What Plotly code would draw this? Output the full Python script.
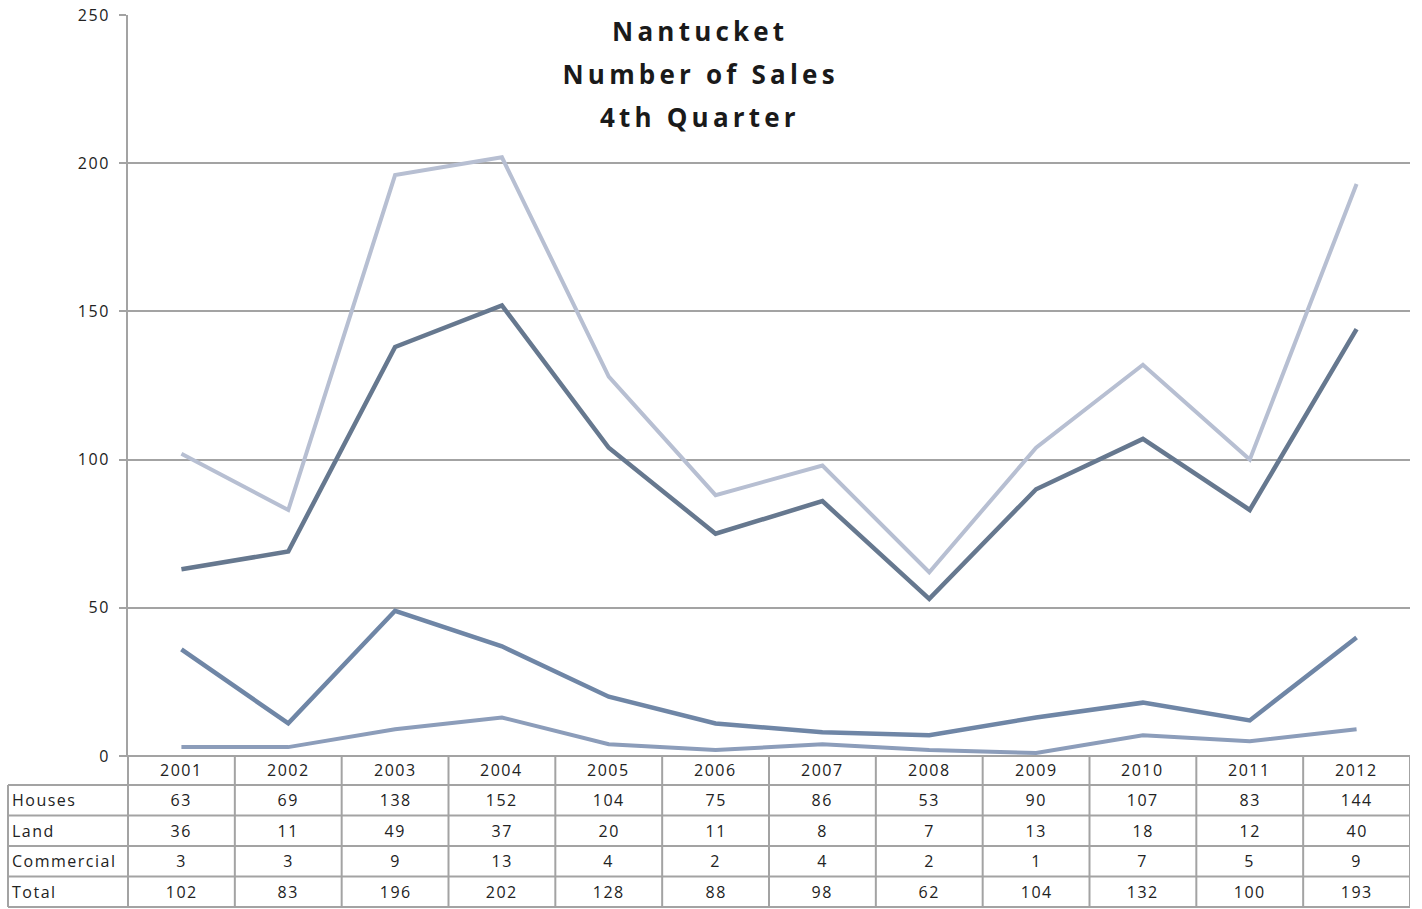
import plotly.graph_objects as go

years = [2001, 2002, 2003, 2004, 2005, 2006, 2007, 2008, 2009, 2010, 2011, 2012]
houses = [63, 69, 138, 152, 104, 75, 86, 53, 90, 107, 83, 144]
land = [36, 11, 49, 37, 20, 11, 8, 7, 13, 18, 12, 40]
commercial = [3, 3, 9, 13, 4, 2, 4, 2, 1, 7, 5, 9]
total = [102, 83, 196, 202, 128, 88, 98, 62, 104, 132, 100, 193]
series_names = ["Houses", "Land", "Commercial", "Total"]
title_lines = ["Nantucket", "Number of Sales", "4th Quarter"]

W, H = 1422, 909
L, R, T, B = 128, 12, 15, 153
PW, PH = W - L - R, H - T - B

def px_x(px):
    return (px - L) / PW

def px_y(py):
    return (H - B - py) / PH

colors = {"Houses": "#66788f", "Land": "#6f86a6", "Commercial": "#8c9dba", "Total": "#b7bfd2"}
widths = {"Houses": 4.5, "Land": 4.5, "Commercial": 4, "Total": 4}
data = {"Houses": houses, "Land": land, "Commercial": commercial, "Total": total}

fig = go.Figure()
for name in ["Total", "Commercial", "Land", "Houses"]:
    fig.add_trace(go.Scatter(x=years, y=data[name], mode="lines", name=name,
                             line=dict(color=colors[name], width=widths[name]),
                             showlegend=False))

GRID = "#a3a3a3"
font_fam = "Open Sans, DejaVu Sans, sans-serif"

fig.update_layout(
    width=W, height=H,
    margin=dict(l=L, r=R, t=T, b=B, autoexpand=False),
    paper_bgcolor="white", plot_bgcolor="white",
    xaxis=dict(range=[years[0] - 0.5, years[-1] + 0.5], showgrid=False, showticklabels=False,
               zeroline=False, showline=False, ticks="", automargin=False),
    yaxis=dict(range=[0, 250], dtick=50, showgrid=True, gridcolor=GRID, gridwidth=2,
               zeroline=False, showline=True, linecolor=GRID, linewidth=2,
               ticks="outside", ticklen=7, tickcolor=GRID, tickwidth=2, automargin=False,
               ticklabelstandoff=6,
               tickfont=dict(family=font_fam, size=16, color="#222")),
)

shapes = []
row_edges = [756, 785, 815.5, 846, 876.5, 907]
shapes.append(dict(type="line", xref="paper", yref="paper", x0=px_x(121), x1=1,
                   y0=px_y(row_edges[0]), y1=px_y(row_edges[0]), line=dict(color=GRID, width=2)))
for e in row_edges[1:]:
    shapes.append(dict(type="line", xref="paper", yref="paper", x0=px_x(8), x1=1,
                       y0=px_y(e), y1=px_y(e), line=dict(color=GRID, width=2)))
shapes.append(dict(type="line", xref="paper", yref="paper", x0=px_x(8), x1=px_x(8),
                   y0=px_y(row_edges[1]), y1=px_y(row_edges[-1]), line=dict(color=GRID, width=2)))
shapes.append(dict(type="line", xref="paper", yref="paper", x0=0, x1=0,
                   y0=px_y(row_edges[0]), y1=px_y(row_edges[-1]), line=dict(color=GRID, width=2)))
for i in range(len(years)):
    xb = years[i] + 0.5
    shapes.append(dict(type="line", xref="x", yref="paper", x0=xb, x1=xb,
                       y0=px_y(row_edges[0]), y1=px_y(row_edges[-1]), line=dict(color=GRID, width=2)))

annotations = []
tfont = dict(family=font_fam, size=16, color="#222")
ycen = [(row_edges[k] + row_edges[k + 1]) / 2 for k in range(5)]
for i, yr in enumerate(years):
    annotations.append(dict(x=yr, y=px_y(ycen[0]), xref="x", yref="paper", text=str(yr),
                            showarrow=False, font=tfont, xanchor="center", yanchor="middle"))
    for k, name in enumerate(series_names):
        annotations.append(dict(x=yr, y=px_y(ycen[k + 1]), xref="x", yref="paper",
                                text=str(data[name][i]), showarrow=False, font=tfont,
                                xanchor="center", yanchor="middle"))
for k, name in enumerate(series_names):
    annotations.append(dict(x=px_x(10), y=px_y(ycen[k + 1]), xref="paper", yref="paper",
                            text=name, showarrow=False, font=tfont, align="left",
                            xanchor="left", yanchor="middle"))

title_y = [31, 74, 117]
for txt, ty in zip(title_lines, title_y):
    annotations.append(dict(x=px_x(700), y=px_y(ty), xref="paper", yref="paper",
                            text="<b>" + txt + "</b>", showarrow=False,
                            font=dict(family=font_fam, size=26, color="#1a1a1a"),
                            xanchor="center", yanchor="middle"))

fig.update_layout(shapes=shapes, annotations=annotations)

post_js = """
document.body.style.margin = '0';
document.body.style.padding = '0';
var gd = document.getElementById('{plot_id}');
gd.querySelectorAll('text').forEach(function(t){
  var fs = parseFloat(t.style.fontSize || '0');
  t.style.letterSpacing = (fs >= 20) ? '4.2px' : '1.5px';
});
"""
fig.write_html("out.html", post_script=post_js, config={"displayModeBar": False})
